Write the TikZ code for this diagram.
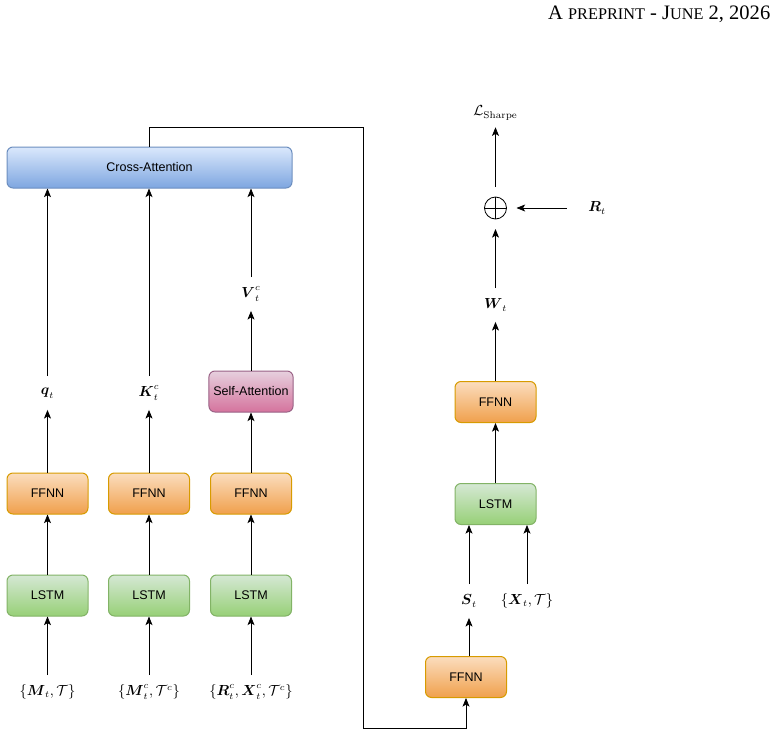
\documentclass[tikz,border=0pt]{standalone}
\usepackage{amsmath}
\usepackage{amssymb}
\usepackage{fontspec}
\newfontfamily\boxfont{Liberation Sans}
\newfontfamily\headfont{Liberation Serif}
\usetikzlibrary{arrows.meta}
\usetikzlibrary{positioning}

\definecolor{crossTop}{HTML}{DAE8FC}
\definecolor{crossBot}{HTML}{7EA6E0}
\definecolor{crossLine}{HTML}{6C8EBF}
\definecolor{ffnnTop}{HTML}{FBDDBE}
\definecolor{ffnnBot}{HTML}{F0A04C}
\definecolor{ffnnLine}{HTML}{D79B00}
\definecolor{lstmTop}{HTML}{D5E8D4}
\definecolor{lstmBot}{HTML}{97D077}
\definecolor{lstmLine}{HTML}{82B366}
\definecolor{selfTop}{HTML}{E6D0DE}
\definecolor{selfBot}{HTML}{D5739D}
\definecolor{selfLine}{HTML}{996185}

\begin{document}
\begin{tikzpicture}[x=0.75pt,y=-0.75pt,
    block/.style={draw,rounded corners=4.5pt,minimum width=60.75pt,minimum height=30.75pt,
      line width=0.75pt,font=\boxfont\fontsize{9.4}{11}\selectfont},
    ffnn/.style={block,draw=ffnnLine,top color=ffnnTop,bottom color=ffnnBot},
    lstm/.style={block,draw=lstmLine,top color=lstmTop,bottom color=lstmBot},
    selfatt/.style={block,draw=selfLine,top color=selfTop,bottom color=selfBot},
    crossatt/.style={block,minimum width=213.75pt,draw=crossLine,top color=crossTop,bottom color=crossBot},
    lbl/.style={font=\fontsize{10.5}{12.6}\selectfont,minimum height=25pt,inner sep=0pt},
    arr/.style={-{Stealth[length=6.5pt,width=5.25pt,inset=1.6pt]},line width=0.6pt}]
\useasboundingbox (0,0) rectangle (783,736);
\node[anchor=base east,font=\headfont\fontsize{15.4}{18}\selectfont] (head) at (775,19)
  {A {\fontsize{12.2}{14}\selectfont PREPRINT} - J{\fontsize{12.2}{14}\selectfont UNE} 2, 2026};

\node[crossatt] (ca) at (149.5,167.5) {Cross-Attention};
\node[selfatt] (sa) at (251,391.5) {Self-Attention};
\node[ffnn] (ffA) at (47.5,493.5) {FFNN};
\node[ffnn] (ffB) at (149,493.5) {FFNN};
\node[ffnn] (ffC) at (251,493.5) {FFNN};
\node[lstm] (lsA) at (47.5,595.5) {LSTM};
\node[lstm] (lsB) at (149,595.5) {LSTM};
\node[lstm] (lsC) at (251,595.5) {LSTM};
\node[lbl] (q) at (47.5,393) {$\boldsymbol{q}_t$};
\node[lbl] (k) at (149,393) {$\boldsymbol{K}_t^c$};
\node[lbl] (v) at (251,294) {$\boldsymbol{V}_t^c$};
\node[lbl] (inA) at (47.5,692) {$\{\boldsymbol{M}_t,\mathcal{T}\}$};
\node[lbl] (inB) at (149,692) {$\{\boldsymbol{M}_t^c,\mathcal{T}^c\}$};
\node[lbl] (inC) at (251,692) {$\{\boldsymbol{R}_t^c,\boldsymbol{X}_t^c,\mathcal{T}^c\}$};

\node[ffnn] (ffS) at (466,677) {FFNN};
\node[lstm] (lsR) at (495.5,504) {LSTM};
\node[ffnn] (ffR) at (495.5,402) {FFNN};
\node[lbl] (st) at (469,601) {$\boldsymbol{S}_t$};
\node[lbl] (xt) at (527,601) {$\{\boldsymbol{X}_t,\mathcal{T}\}$};
\node[lbl] (wt) at (495.5,305) {$\boldsymbol{W}_t$};
\node[draw,circle,minimum size=16.5pt,inner sep=0pt,outer sep=7.5pt,line width=0.6pt,
  path picture={\draw[line width=0.6pt] (path picture bounding box.north) -- (path picture bounding box.south)
    (path picture bounding box.west) -- (path picture bounding box.east);}] (op) at (495.5,208) {};
\node[lbl,minimum width=45pt] (rt) at (597,208) {$\boldsymbol{R}_t$};
\node[lbl,minimum height=21pt] (ls) at (495.5,113) {$\mathcal{L}_{\mathrm{Sharpe}}$};
\coordinate (tr) at (363,127);
\coordinate (br) at (363,728);

\draw[arr] (inA) -- (lsA);
\draw[arr] (inB) -- (lsB);
\draw[arr] (inC) -- (lsC);
\draw[arr] (lsA) -- (ffA);
\draw[arr] (lsB) -- (ffB);
\draw[arr] (lsC) -- (ffC);
\draw[arr] (ffA) -- (q);
\draw[arr] (ffB) -- (k);
\draw[arr] (ffC) -- (sa);
\draw[arr] (sa) -- (v);
\draw[arr] (q) -- (q |- ca.south);
\draw[arr] (k) -- (k |- ca.south);
\draw[arr] (v) -- (v |- ca.south);

\draw[arr] (ca.north) |- (tr) -- (br) -| (ffS.south);
\draw[arr] (st |- ffS.north) -- (st);
\draw[arr] (st) -- (st |- lsR.south);
\draw[arr] (xt) -- (xt |- lsR.south);
\draw[arr] (lsR) -- (ffR);
\draw[arr] (ffR) -- (wt);
\draw[arr] (wt) -- (op);
\draw[arr] (rt) -- (op);
\draw[arr] (op) -- (ls);
\end{tikzpicture}
\end{document}
